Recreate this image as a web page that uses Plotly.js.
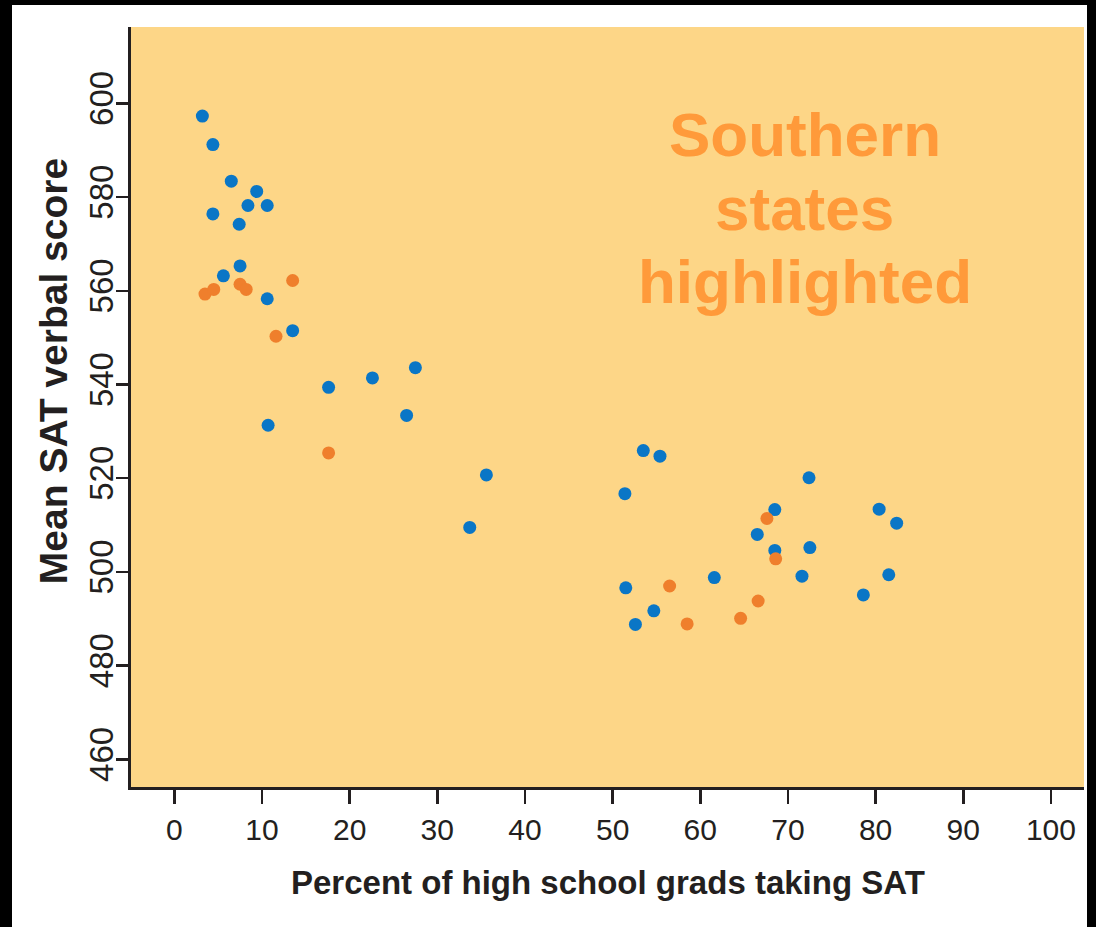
<!DOCTYPE html>
<html>
<head>
<meta charset="utf-8">
<script src="https://cdn.plot.ly/plotly-3.0.1.min.js"></script>
<style>
  html, body { margin: 0; padding: 0; background: #000; width: 1096px; height: 927px; overflow: hidden; }
  #chart { position: absolute; left: 12px; top: 5px; width: 1075px; height: 922px; background: #fff; }
</style>
</head>
<body>
<div id="chart"></div>
<script>
// Non-southern states (blue)
const otherPct = [3.2, 4.4, 6.5, 9.4, 8.4, 10.6, 4.4, 7.4, 7.5, 5.6, 10.6, 13.5,
  17.6, 22.6, 27.5, 26.5, 10.7, 35.6, 33.7,
  53.5, 55.4, 51.4, 72.4, 68.5, 80.4, 82.4, 66.5, 68.5, 72.5, 61.6, 71.6, 81.5, 51.5, 54.7, 52.6, 78.6];
const otherScore = [597.3, 591.2, 583.4, 581.2, 578.2, 578.2, 576.4, 574.2, 565.3, 563.2, 558.3, 551.5,
  539.4, 541.4, 543.6, 533.4, 531.3, 520.7, 509.5,
  525.9, 524.7, 516.7, 520.1, 513.3, 513.4, 510.4, 508.0, 504.6, 505.2, 498.8, 499.1, 499.4, 496.6, 491.7, 488.8, 495.1];
// Southern states (orange)
const southPct = [13.5, 3.5, 4.5, 7.5, 8.2, 11.6, 17.6, 67.6, 68.6, 56.5, 66.6, 64.6, 58.5];
const southScore = [562.2, 559.3, 560.3, 561.4, 560.3, 550.3, 525.4, 511.4, 502.8, 497.0, 493.8, 490.1, 488.9];

const xTicks = [0, 10, 20, 30, 40, 50, 60, 70, 80, 90, 100];
const yTicks = [460, 480, 500, 520, 540, 560, 580, 600];

const xTitle = 'Percent of high school grads taking SAT';
const yTitle = 'Mean SAT verbal score';
const noteLines = ['Southern', 'states', 'highlighted'];

const axisColor = '#231F20';
const traces = [
  { x: otherPct, y: otherScore, type: 'scatter', mode: 'markers', name: 'Other states',
    marker: { color: '#0A76C6', size: 13 }, hoverinfo: 'x+y' },
  { x: southPct, y: southScore, type: 'scatter', mode: 'markers', name: 'Southern states',
    marker: { color: '#EF7F2C', size: 13 }, hoverinfo: 'x+y' }
];

const noteY = [593.45, 577.66, 562.08];
const noteFont = { family: 'Liberation Sans, Arial, sans-serif', size: 62, color: '#FF9A3A', weight: 'bold' };
const annotations = noteLines.map((t, i) => ({
  x: 71.9, y: noteY[i], xref: 'x', yref: 'y', text: t, showarrow: false,
  xanchor: 'center', yanchor: 'middle', font: noteFont
}));
// axis titles placed as paper annotations
annotations.push({
  x: 0.5, y: -0.126, xref: 'paper', yref: 'paper', text: xTitle, showarrow: false,
  xanchor: 'center', yanchor: 'middle',
  font: { family: 'Liberation Sans, Arial, sans-serif', size: 33, color: '#231F20', weight: 'bold' }
});
annotations.push({
  x: -0.082, y: 0.547, xref: 'paper', yref: 'paper', text: yTitle, showarrow: false,
  textangle: -90, xanchor: 'center', yanchor: 'middle',
  font: { family: 'Liberation Sans, Arial, sans-serif', size: 39, color: '#231F20', weight: 'bold' }
});

const layout = {
  width: 1075, height: 922,
  margin: { l: 119, r: 3, t: 22, b: 140 },
  paper_bgcolor: '#ffffff',
  plot_bgcolor: '#FDD687',
  showlegend: false,
  xaxis: {
    range: [-4.94, 103.77],
    tickvals: xTicks, ticktext: xTicks.map(String),
    showgrid: false, zeroline: false,
    showline: true, linecolor: axisColor, linewidth: 3,
    ticks: 'outside', ticklen: 14, tickwidth: 2.5, tickcolor: axisColor,
    tickfont: { family: 'Liberation Sans, Arial, sans-serif', size: 30, color: '#231F20' },
    fixedrange: true
  },
  yaxis: {
    range: [454.1, 616.3],
    tickvals: yTicks, ticktext: yTicks.map(String),
    tickangle: -90,
    ticklabelstandoff: -10,
    showgrid: false, zeroline: false,
    showline: true, linecolor: axisColor, linewidth: 3,
    ticks: 'outside', ticklen: 12, tickwidth: 2.5, tickcolor: axisColor,
    tickfont: { family: 'Liberation Sans, Arial, sans-serif', size: 33, color: '#231F20' },
    fixedrange: true
  },
  annotations: annotations
};

Plotly.newPlot('chart', traces, layout, { displayModeBar: false, staticPlot: true });
</script>
</body>
</html>
